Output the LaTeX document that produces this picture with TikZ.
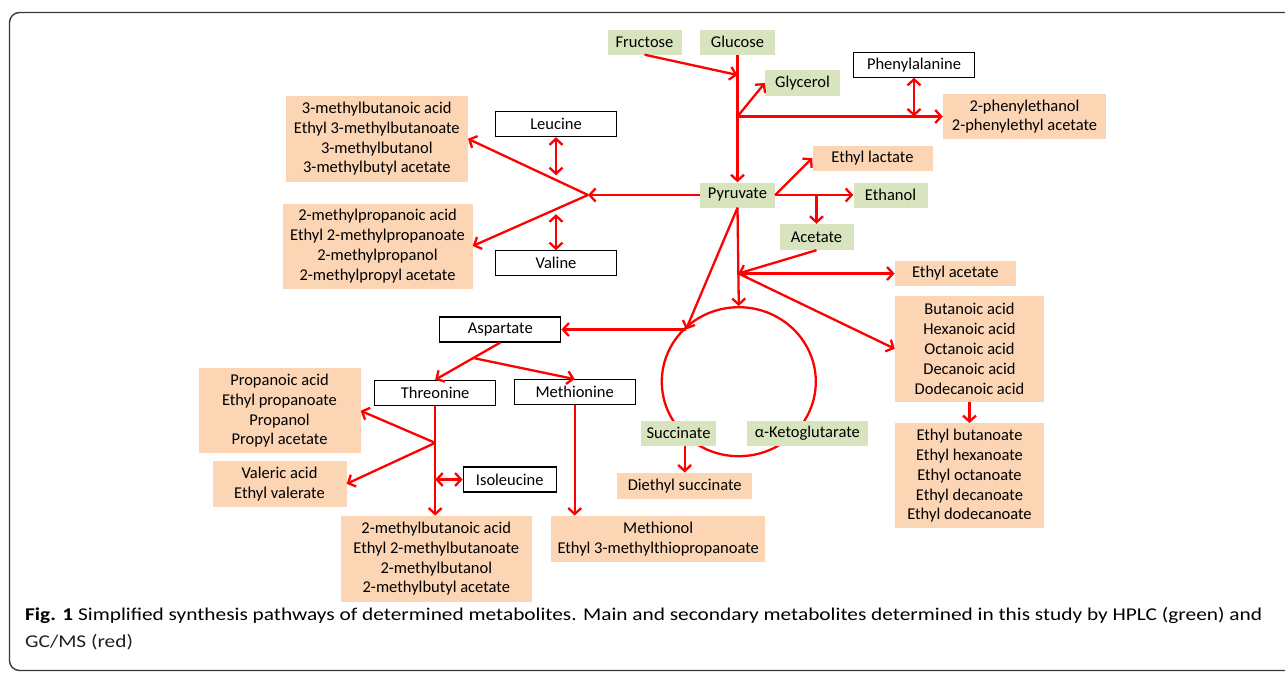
\documentclass[tikz,border=0pt]{standalone}
\usepackage{fontspec}
\setmainfont{Carlito}
\usetikzlibrary{arrows.meta,shapes.geometric,calc}
\definecolor{grn}{HTML}{D7E4BD}
\definecolor{org}{HTML}{FCD5B5}
\definecolor{arr}{HTML}{FF0000}
\definecolor{framec}{HTML}{3A3A3A}
\definecolor{capc}{HTML}{231F20}
\newsavebox\capbox
\begin{document}
\sbox\capbox{\fontsize{18}{21}\selectfont\textbf{Fig. 1} Simplified synthesis pathways of determined metabolites. Main and secondary metabolites determined in this study by HPLC (green) and}%
\pgfmathsetmacro\capsc{1237/\wd\capbox}%
\begin{tikzpicture}[x=1pt,y=-1pt,
  box/.style={inner sep=0pt, align=center, font=\fontsize{16.5}{19.8}\selectfont, text=black},
  gbox/.style={box, fill=grn},
  obox/.style={box, fill=org},
  wbox/.style={box, fill=white, draw=black, line width=1.1pt},
  ar/.style={draw=arr, line width=2.3pt, -{Straight Barb[length=6pt,width=13pt]}},
  dar/.style={draw=arr, line width=2.3pt, {Straight Barb[length=6pt,width=13pt]}-{Straight Barb[length=6pt,width=13pt]}},
  sz/.style 2 args={minimum width=#1pt, minimum height=#2pt}
]
\useasboundingbox (0,0) rectangle (1285,672);
\clip (0,0) rectangle (1285,672);
% frame
\draw[framec, line width=1.4pt, rounded corners=10pt] (1310,12.5) -- (9.5,12.5) -- (9.5,670.5) -- (1310,670.5);

% circle (TCA)
\node[draw=arr, line width=2.3pt, ellipse, inner sep=0pt, minimum width=154pt, minimum height=149pt] (circ) at (738.8,381.7) {};

% nodes
\node[gbox, sz={74}{25}] (fru) at (644.5,42) {Fructose};
\node[gbox, sz={75}{25}] (glu) at (737.5,42) {Glucose};
\node[wbox, sz={121}{25}] (phe) at (914,64.7) {Phenylalanine};
\node[gbox, sz={75}{26}] (gly) at (802.5,83) {Glycerol};
\node[obox, sz={163}{45}] (phe2) at (1024.5,116.5) {2-phenylethanol\\2-phenylethyl acetate};
\node[obox, sz={120}{25}] (el) at (872.5,158) {Ethyl lactate};
\node[gbox, sz={75}{25}] (pyr) at (737.5,195) {Pyruvate};
\node[gbox, sz={74}{25}] (eth) at (890.5,195) {Ethanol};
\node[gbox, sz={74}{26}] (ac) at (816.5,237) {Acetate};
\node[wbox, sz={121}{25}] (leu) at (556,124.2) {Leucine};
\node[wbox, sz={121}{25}] (val) at (556,263.3) {Valine};
\node[obox, sz={182}{86}] (mb3) at (376.8,138.8) {3-methylbutanoic acid\\Ethyl 3-methylbutanoate\\3-methylbutanol\\3-methylbutyl acetate};
\node[obox, sz={190}{85}] (mp2) at (377.5,246) {2-methylpropanoic acid\\Ethyl 2-methylpropanoate\\2-methylpropanol\\2-methylpropyl acetate};
\node[obox, sz={121}{25}] (ea) at (955.3,273.5) {Ethyl acetate};
\node[obox, sz={149}{106}] (fa) at (969.5,348.8) {Butanoic acid\\Hexanoic acid\\Octanoic acid\\Decanoic acid\\Dodecanoic acid};
\node[obox, sz={149}{105}] (ee) at (969.5,475.8) {Ethyl butanoate\\Ethyl hexanoate\\Ethyl octanoate\\Ethyl decanoate\\Ethyl dodecanoate};
\node[gbox, sz={75}{25}] (suc) at (678.5,433) {Succinate};
\node[gbox, sz={121}{25}] (akg) at (807.3,433) {α-Ketoglutarate};
\node[obox, sz={135}{26}] (des) at (684.7,485.7) {Diethyl succinate};
\node[obox, sz={214}{46}] (mol) at (658.2,538.8) {Methionol\\Ethyl 3-methylthiopropanoate};
\node[wbox, sz={121}{25}] (asp) at (500.3,329.5) {Aspartate};
\node[wbox, sz={121}{25}] (thr) at (435.2,392.8) {Threonine};
\node[wbox, sz={121}{25}] (met) at (574.7,392.2) {Methionine};
\node[wbox, sz={93}{25}] (iso) at (509.7,479.5) {Isoleucine};
\node[obox, sz={162}{85}] (pa) at (279.5,410.8) {Propanoic acid\\Ethyl propanoate\\Propanol\\Propyl acetate};
\node[obox, sz={134}{46}] (va) at (279.5,483.8) {Valeric acid\\Ethyl valerate};
\node[obox, sz={191}{86}] (mb2) at (436.3,558.8) {2-methylbutanoic acid\\Ethyl 2-methylbutanoate\\2-methylbutanol\\2-methylbutyl acetate};

% junctions
\coordinate (jf) at (737.5,75);
\coordinate (jg) at (glu.south |- phe2.west);
\coordinate (ja) at (ac.north |- pyr.east);
\coordinate (jl) at (588,195);
\coordinate (jc) at (738.5,273.5);
\coordinate (cp) at (686,329.5);
\coordinate (ja2) at ($(asp.south)!0.415!(thr.north)$);
\coordinate (jt) at ($(thr.south)+(0,37)$);

% connectors
\draw[ar] (glu.south) -- (pyr.north);
\draw[ar] (fru.south) -- (jf);
\draw[ar] (jg) -- (gly.west);
\draw[ar] (jg) -- (phe2.west);
\draw[dar] (phe.south) -- (phe.south |- jg);
\draw[ar] (pyr.east) -- (el.west);
\draw[ar] (pyr.east) -- (eth.west);
\draw[ar] (ja) -- (ac.north);
\draw[ar] (pyr.west) -- (jl);
\draw[ar] (jl) -- (mb3.east);
\draw[ar] (jl) -- (mp2.east);
\draw[dar] (leu.south) -- ($(leu.south)+(0,38)$);
\draw[dar] (val.north) -- ($(val.north)+(0,-36)$);
\draw[ar] (ac.south) -- (jc);
\draw[ar] (pyr.south) -- (circ.north);
\draw[ar] (jc) -- (jc -| ea.west);
\draw[ar] (jc) -- (fa.west);
\draw[ar] (fa.south) -- (ee.north);
\draw[ar] (pyr.south) -- (cp);
\draw[ar] (cp) -- (asp.east);
\draw[ar] (des.north |- suc.south) -- (des.north);
\draw[ar] (asp.south) -- (thr.north);
\draw[ar] (ja2) -- (met.north);
\draw[ar] (thr.south) -- (thr.south |- mb2.north);
\draw[ar] (jt) -- (pa.east);
\draw[ar] (jt) -- (va.east);
\draw[dar] (thr.south |- iso.west) -- (iso.west);
\draw[ar] (met.south) -- (met.south |- mol.north);

% caption
\node[anchor=base west, inner sep=0pt, text=capc] (cap1) at (25,620) {\scalebox{\capsc}[1]{\usebox\capbox}};
\node[anchor=base west, inner sep=0pt, text=capc, font=\fontsize{18}{21}\selectfont] (cap2) at (25,647) {\scalebox{\capsc}[1]{GC/MS (red)}};
\end{tikzpicture}
\end{document}
